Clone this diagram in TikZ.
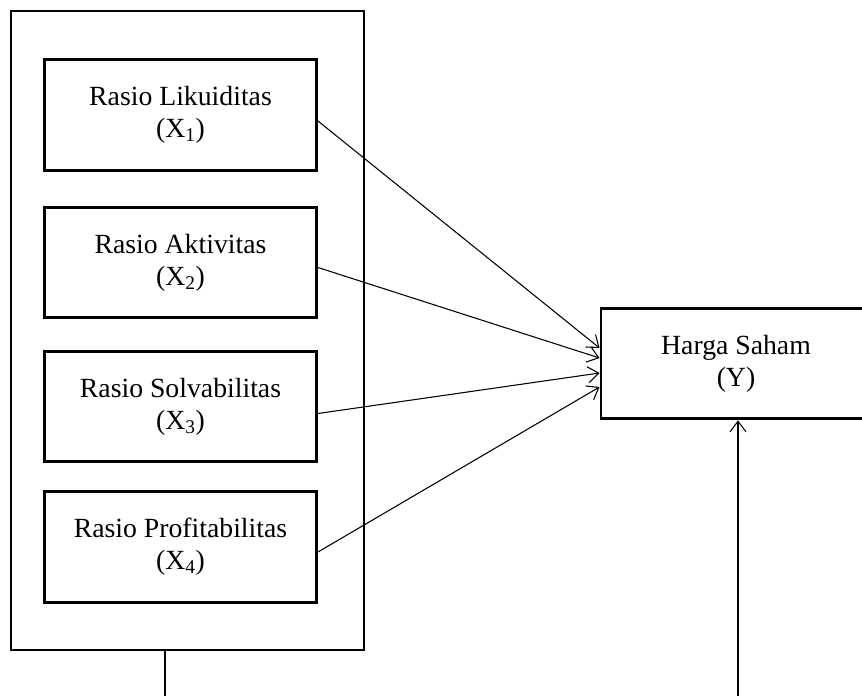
\documentclass[tikz,border=0pt]{standalone}
\usepackage{fontspec}
\setmainfont{Liberation Serif}
\usetikzlibrary{calc,arrows.meta}

\begin{document}
\begin{tikzpicture}[
    x=0.75pt, y=-0.75pt,
    rasiobox/.style={draw=black, line width=2.2pt, minimum width=204pt, minimum height=83pt,
                     align=center, inner sep=1pt, font=\fontsize{20.8}{24}\selectfont},
    panah/.style={line width=0.8pt, -{Straight Barb[length=8pt,width=12pt]}},
  ]

  % ---------------- page (the Y box runs off the right edge) ----------------
  \clip (0,0) rectangle (862,696);

  % ---------------- frame round the four ratios ------------------------------
  \node[draw=black, line width=1pt, minimum width=264.75pt, minimum height=479.25pt]
        (rasio) at (187.5,330.5) {};

  % ---------------- the four ratios (X1 .. X4) -------------------------------
  \node[rasiobox] (likuiditas)     at (180.5,115)   {Rasio Likuiditas\\(X\textsubscript{1})};
  \node[rasiobox] (aktivitas)      at (180.5,262.5) {Rasio Aktivitas\\(X\textsubscript{2})};
  \node[rasiobox] (solvabilitas)   at (180.5,406.5) {Rasio Solvabilitas\\(X\textsubscript{3})};
  \node[rasiobox] (profitabilitas) at (180.5,547)   {Rasio Profitabilitas\\(X\textsubscript{4})};

  % ---------------- share price (Y) ------------------------------------------
  \node[rasiobox, minimum width=202.5pt] (harga) at (736,363.5) {Harga Saham\\(Y)};

  % ---------------- X -> Y ----------------------------------------------------
  \draw[panah] ($(likuiditas.east)+(0,6)$)     -- ($(harga.west)+(0,-15.5)$);
  \draw[panah] ($(aktivitas.east)+(0,5)$)      -- ($(harga.west)+(0,-5.5)$);
  \draw[panah] ($(solvabilitas.east)+(0,7)$)   -- ($(harga.west)+(0,9.5)$);
  \draw[panah] ($(profitabilitas.east)+(0,5)$) -- ($(harga.west)+(0,23.5)$);

  % ---------------- lines leaving the bottom of the page ---------------------
  \coordinate (kiri)  at (165,696);
  \coordinate (kanan) at (738,696);
  \draw[line width=0.8pt] (kiri) -- (kiri |- rasio.south);
  \draw[panah] (kanan) -- (kanan |- harga.south);

\end{tikzpicture}
\end{document}
